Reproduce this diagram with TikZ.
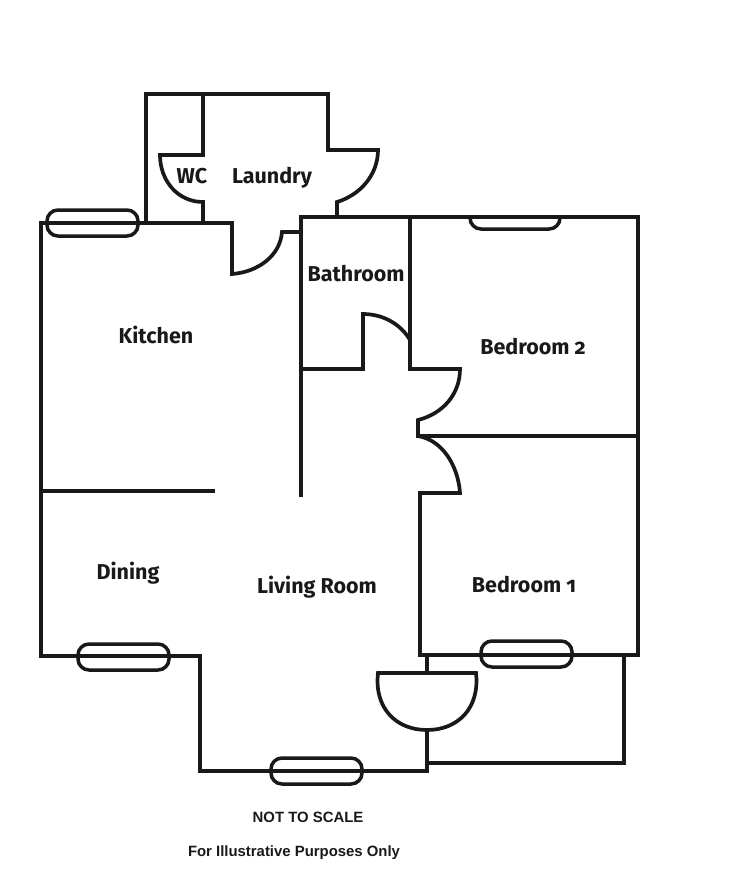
\documentclass[tikz,border=0pt]{standalone}
\usepackage{fontspec}
\newfontfamily\roomfont[Numbers=OldStyle]{Fira Sans}
\newfontfamily\notefont{Liberation Sans}
\tikzset{
  wall/.style={draw=black!90,line width=3.7pt,line join=miter,line cap=butt},
  thickwall/.style={wall,line width=4.6pt},
  glazing/.style={draw=black!90,line width=3.5pt,rounded corners=11pt},
  room/.style={font=\roomfont\bfseries\fontsize{21.5}{25}\selectfont,text=black!90,inner sep=0pt},
  note/.style={font=\notefont\bfseries\fontsize{14.9}{18}\selectfont,text=black!90,inner sep=0pt}
}
\begin{document}
\begin{tikzpicture}[x=1pt,y=-1pt]
\useasboundingbox (0,0) rectangle (750,891);
% outer walls
\draw[wall] (146,223) -- (146,94) -- (328,94) -- (328,150) -- (378,150)
  .. controls (378,175) and (360,195) .. (337,202) -- (337,217);
\draw[wall] (203,94) -- (203,155) -- (160,155)
  .. controls (160,181) and (178,202) .. (203,202) -- (203,223);
\draw[wall] (302,232) -- (282,232)
  .. controls (280,256) and (258,272) .. (232,274) -- (232,223) -- (41,223) -- (41,656) -- (200,656) -- (200,771) -- (427,771) -- (427,730);
\draw[wall] (302,217) -- (638,217) -- (638,655) -- (420,655) -- (420,493) -- (460,493)
  .. controls (458,465) and (442,440) .. (418,436);
\draw[wall] (416.2,436) -- (638,436);
\draw[thickwall] (301,215) -- (301,497);
\draw[wall] (301,369) -- (363,369) -- (363,314)
  .. controls (385,314) and (402,326) .. (410,340);
\draw[wall] (410,217) -- (410,369) -- (460,369)
  .. controls (460,395) and (442,414) .. (418,420) -- (418,437.7);
\draw[wall] (41,491) -- (215,491);
% front door and balcony
\draw[wall] (427,655) -- (427,673);
\draw[wall] (378,673) -- (476,673)
  .. controls (480,708) and (458,730) .. (427,730)
  .. controls (396,730) and (374,708) .. (378,673) -- cycle;
\draw[wall] (427,763) -- (624,763) -- (624,655);
% windows
\draw[glazing] (47,210) rectangle (138,236);
\draw[glazing] (78,644) rectangle (169,670);
\draw[glazing] (271,758) rectangle (362,784);
\draw[glazing] (481,641) rectangle (572,667);
\draw[glazing] (470,217) -- (470,229) -- (560,229) -- (560,217);
% labels
\node[room] (wc) at (192,176) {WC};
\node[room] (laundry) at (272,178) {Laundry};
\node[room] (bathroom) at (356,274) {Bathroom};
\node[room] (kitchen) at (156,335) {Kitchen};
\node[room] (bed2) at (533,347) {Bedroom 2};
\node[room] (dining) at (128,573) {Dining};
\node[room] (living) at (317,587) {Living Room};
\node[room] (bed1) at (524,585) {Bedroom 1};
\node[note] (scale) at (308,817) {NOT TO SCALE};
\node[note] (purpose) at (294,852.5) {For Illustrative Purposes Only};
\end{tikzpicture}
\end{document}
